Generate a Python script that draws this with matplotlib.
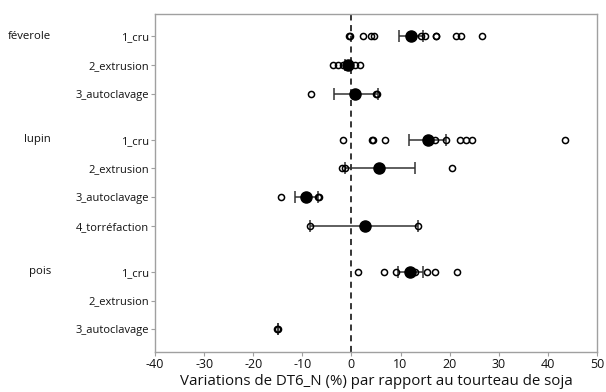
import matplotlib.pyplot as plt
import matplotlib.transforms as mtransforms

plt.rcParams['font.family'] = ['Open Sans', 'DejaVu Sans']
plt.rcParams['axes.unicode_minus'] = False

# rows (top to bottom)
groups = ['féverole', 'lupin', 'pois']
group_rows = [0, 3, 7]
row_labels = ['1_cru', '2_extrusion', '3_autoclavage',
              '1_cru', '2_extrusion', '3_autoclavage', '4_torréfaction',
              '1_cru', '2_extrusion', '3_autoclavage']
row_pos = [0, 1, 2, 3.6, 4.6, 5.6, 6.6, 8.2, 9.2, 10.2]

# individual observations (open circles)
points = [
    [-0.5, -0.2, 2.4, 3.9, 4.5, 14.1, 14.9, 17.2, 17.3, 21.2, 22.4, 26.6],
    [-3.7, -2.7, -1.7, -0.7, 0.7, 1.8],
    [-8.3, 5.1, 5.3],
    [-1.7, 4.1, 4.4, 6.8, 17.0, 19.3, 22.1, 23.4, 24.6, 43.6],
    [-2.0, -1.4, 20.5],
    [-14.4, -6.9, -6.6],
    [-8.5, 13.6],
    [1.3, 6.6, 9.0, 13.0, 15.3, 17.1, 21.6],
    [],
    [-15.1, -14.9],
]

# means and interval bounds (None = not shown)
means = [12.2, -0.7, 0.7, 15.6, 5.6, -9.2, 2.7, 12.0, None, None]
low = [9.6, -1.4, -3.6, 11.7, -1.4, -11.5, -8.5, 9.5, None, -15.0]
high = [14.5, 0.0, 5.4, 19.3, 12.9, -6.8, 13.6, 14.6, None, -15.0]

fig = plt.figure(figsize=(6.06, 3.92), dpi=100)
ax = fig.add_axes([0.2558, 0.1033, 0.7292, 0.861])

ax.axvline(0, color='black', lw=1.1, ls=(0, (4, 3)), zorder=1)

for i, y in enumerate(row_pos):
    if low[i] is not None:
        c = means[i] if means[i] is not None else low[i]
        ax.errorbar([c], [y], xerr=[[c - low[i]], [high[i] - c]],
                    fmt='none', ecolor='#333333', elinewidth=1.1,
                    capsize=4.5, capthick=1.1, zorder=2)
    if points[i]:
        ax.plot(points[i], [y] * len(points[i]), 'o', ms=4.4,
                mfc='none', mec='black', mew=1.1, zorder=3)
    if means[i] is not None:
        ax.plot([means[i]], [y], 'o', ms=8, color='black', zorder=4)

ax.set_xlim(-40, 50)
ax.set_xticks(range(-40, 51, 10))
ax.set_ylim(row_pos[-1] + 0.77, row_pos[0] - 0.77)
ax.set_yticks(row_pos)
ax.set_yticklabels(row_labels)

for s in ax.spines.values():
    s.set_color('#a0a0a0')
    s.set_linewidth(1.0)
ax.tick_params(axis='both', colors='#a0a0a0', labelcolor='#111111',
               labelsize=8, length=3, width=0.8, direction='out', pad=1.5)
ax.tick_params(axis='x', labelsize=9, pad=2)

trans = mtransforms.blended_transform_factory(ax.transAxes, ax.transData)
for g, r in zip(groups, group_rows):
    ax.text(-0.235, row_pos[r], g, transform=trans, ha='right', va='center',
            fontsize=8.2, color='#111111')

ax.set_xlabel('Variations de DT6_N (%) par rapport au tourteau de soja',
              fontsize=10.8, color='#111111', labelpad=2)

fig.savefig('out.png', dpi=100)
